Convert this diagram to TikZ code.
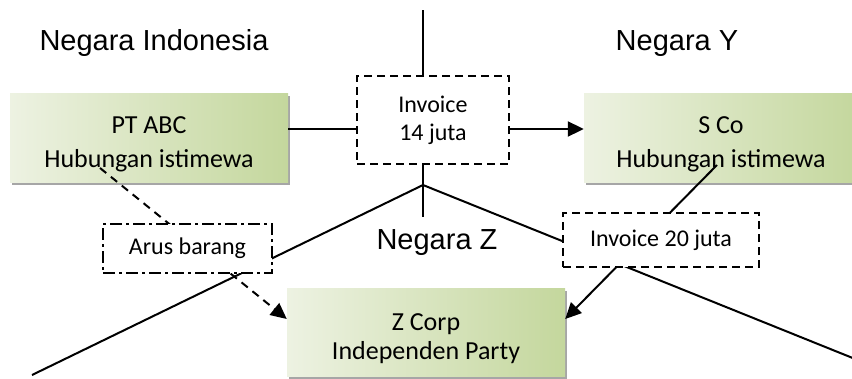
\documentclass[tikz,border=0pt]{standalone}
\usepackage{fontspec}
\setmainfont{Liberation Sans}
\newfontfamily\boxfont{Carlito}
\usetikzlibrary{arrows.meta,shadows}
\definecolor{gl}{HTML}{EDF2E2}
\definecolor{gd}{HTML}{C4D79D}
\newcommand{\topgap}{\rule{0pt}{30pt}}
\pgfdeclarelayer{bg}
\pgfdeclarelayer{mid}
\pgfsetlayers{bg,mid,main}
\begin{document}
\begin{tikzpicture}[x=1pt,y=-1pt,
  greenbox/.style={draw=none, left color=gl, right color=gd, align=center, inner sep=0pt,
    font=\boxfont\fontsize{26}{34}\selectfont,
    drop shadow={shadow xshift=2pt, shadow yshift=-3pt, fill=black!35, opacity=1}},
  wbox/.style={draw, fill=white, line width=1.8pt, dash pattern=on 8pt off 5pt, align=center,
    inner sep=0pt, font=\boxfont\fontsize{24}{28}\selectfont},
  abox/.style={wbox, dash pattern=on 12pt off 4pt on 3pt off 4pt},
  lbl/.style={anchor=base, inner sep=0pt, font=\fontsize{29}{34}\selectfont},
  conn/.style={line width=2pt},
  tip/.style={-{Triangle[length=16pt,width=15pt]}},
  dconn/.style={conn, dash pattern=on 8pt off 6pt}]
\useasboundingbox (0,0) rectangle (852,378);
\clip (0,0) rectangle (852,378);

% country labels
\node[lbl] (ni) at (154,50) {Negara Indonesia};
\node[lbl] (ny) at (677,50) {Negara Y};
\node[lbl] (nz) at (437,249) {Negara Z};

% green boxes
\begin{pgfonlayer}{bg}
\node[greenbox, minimum width=278pt, minimum height=89pt] (abc) at (149,137.5) {\topgap PT ABC\\Hubungan istimewa};
\node[greenbox, minimum width=274pt, minimum height=89pt] (sco) at (721,137.5) {\topgap S Co\\Hubungan istimewa};
\node[greenbox, minimum width=278pt, minimum height=88pt, font=\boxfont\fontsize{26}{29}\selectfont] (zc) at (426,332) {\topgap Z Corp\\Independen Party};
\end{pgfonlayer}

% white boxes
\node[wbox, minimum width=152pt, minimum height=88pt] (inv14) at (433,120) {Invoice\\14 juta};
\node[abox, minimum width=169pt, minimum height=49pt] (arus) at (187.5,248.5) {Arus barang};
\node[wbox, minimum width=196pt, minimum height=54pt] (inv20) at (661,240) {Invoice 20 juta};

% helper coordinates
\coordinate (top) at (423,10);
\coordinate (J) at (423,185);
\coordinate (vend) at (423,217);
\coordinate (lend) at (32,375);
\coordinate (rend) at (880,369);
\coordinate (hl) at (0,129);
\coordinate (ds) at (100,168);
\coordinate (ss) at (717,165);
\coordinate (tg) at (0,319);

\begin{pgfonlayer}{mid}
\draw[conn] (top) -- (top |- inv14.north);
\draw[conn] (top |- inv14.south) -- (vend);
\draw[conn] (lend) -- (J) -- (rend);
\draw[conn] (abc.east |- hl) -- (inv14.west |- hl);
\draw[conn, tip] (inv14.east |- hl) -- (sco.west |- hl);
\draw[dconn, tip] (ds) -- (zc.west |- tg);
\draw[conn, tip] (ss) -- (zc.east |- tg);
\end{pgfonlayer}
\end{tikzpicture}
\end{document}
